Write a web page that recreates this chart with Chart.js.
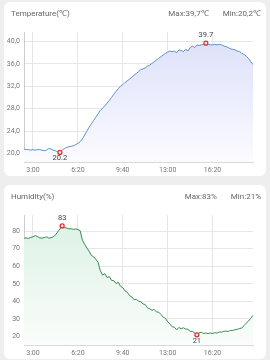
<!DOCTYPE html>
<html>
<head>
<meta charset="utf-8">
<script src="https://cdn.jsdelivr.net/npm/chart.js@4.4.0/dist/chart.umd.min.js"></script>
<style>
  body { margin: 0; background: #eeeeee; width: 270px; height: 360px; overflow: hidden; font-family: Roboto, sans-serif; }
  .card { position: absolute; left: 4px; width: 262px; height: 174px; background: #fff; border-radius: 6px; }
  .head { position: absolute; left: 7px; right: 5px; top: 7px; height: 10px; line-height: 10px; display: flex; justify-content: space-between; font-size: 8px; color: #666; z-index: 2; }
  .stats span + span { margin-left: 14px; }
  .card canvas { position: absolute; left: 0; top: 0; }
</style>
</head>
<body>
<div class="card" style="top:2px">
  <div class="head"><span>Temperature(℃)</span><span class="stats"><span id="tempMax"></span><span id="tempMin"></span></span></div>
  <canvas id="tempChart" width="262" height="174"></canvas>
</div>
<div class="card" style="top:185px">
  <div class="head"><span>Humidity(%)</span><span class="stats"><span id="humMax"></span><span id="humMin"></span></span></div>
  <canvas id="humChart" width="262" height="174"></canvas>
</div>
<script>
// sample times, every 10 minutes
const times = [
  '2:20','2:30','2:40','2:50',
  '3:00','3:10','3:20','3:30','3:40','3:50',
  '4:00','4:10','4:20','4:30','4:40','4:50',
  '5:00','5:10','5:20','5:30','5:40','5:50',
  '6:00','6:10','6:20','6:30','6:40','6:50',
  '7:00','7:10','7:20','7:30','7:40','7:50',
  '8:00','8:10','8:20','8:30','8:40','8:50',
  '9:00','9:10','9:20','9:30','9:40','9:50',
  '10:00','10:10','10:20','10:30','10:40','10:50',
  '11:00','11:10','11:20','11:30','11:40','11:50',
  '12:00','12:10','12:20','12:30','12:40','12:50',
  '13:00','13:10','13:20','13:30','13:40','13:50',
  '14:00','14:10','14:20','14:30','14:40','14:50',
  '15:00','15:10','15:20','15:30','15:40','15:50',
  '16:00','16:10','16:20','16:30','16:40','16:50',
  '17:00','17:10','17:20','17:30','17:40','17:50',
  '18:00','18:10','18:20','18:30','18:40','18:50',
  '19:00','19:10','19:20'
];
const timeTicks = ['3:00', '6:20', '9:40', '13:00', '16:20'];

const temperature = [
  20.8, 20.7, 20.7, 20.6, 20.7, 20.6, 20.7, 20.7, 20.6, 20.5, 20.6, 20.9, 20.8, 20.6, 20.5, 20.3, 20.2,
  20.6, 20.9, 21.1, 21.2, 21.3, 21.4, 21.6, 21.8, 22.1, 22.6, 23.3, 24.0, 24.7, 25.3, 25.9, 26.5, 27.1,
  27.7, 28.1, 28.5, 29.0, 29.5, 30.0, 30.6, 31.1, 31.6, 32.0, 32.3, 32.7, 33.0, 33.3, 33.6, 34.0, 34.3,
  34.6, 35.0, 35.1, 35.3, 35.6, 35.8, 36.1, 36.4, 36.7, 37.0, 37.3, 37.6, 37.9, 38.1, 38.3, 38.2, 38.3,
  38.0, 38.5, 38.4, 38.2, 38.6, 38.3, 38.9, 39.2, 38.9, 39.4, 39.3, 39.4, 39.5, 39.7, 39.5, 39.4, 39.4,
  39.5, 39.4, 39.5, 39.4, 39.2, 39.1, 38.9, 38.7, 38.6, 38.5, 38.3, 38.2, 37.9, 37.7, 37.4, 37.0, 36.4, 35.9
];
const humidity = [
  76.0, 76.1, 75.9, 76.4, 76.8, 77.5, 76.9, 76.2, 76.0, 76.3, 76.8, 76.1, 76.2, 76.8,
  77.8, 79.6, 81.2, 83.0, 82.0, 81.8, 81.3, 81.4, 81.0, 81.3, 80.9, 80.3,
  75.0, 72.5, 70.4, 68.6, 66.2, 65.4, 64.0, 62.2,
  57.5, 55.0, 55.8, 53.6, 54.2, 52.0, 51.8, 50.2, 50.9, 48.6, 47.8, 46.0, 45.2, 43.3, 42.6, 41.0, 41.2, 40.1,
  39.8, 38.6, 38.2, 36.4, 35.8, 35.0, 35.4, 34.0, 33.9, 32.6, 31.0, 30.4, 28.4, 27.2, 25.6, 25.3, 23.8,
  25.2, 24.4, 25.0, 24.3, 24.1, 23.0, 22.9, 22.1,
  21.0,
  22.2, 22.4, 21.8, 22.0, 21.7, 22.0, 21.8, 22.2, 22.0, 22.6, 22.5, 23.0, 23.1, 22.9, 23.5, 23.4, 23.9, 24.1, 24.6, 24.8, 26.3, 27.6, 28.8, 30.4, 32.0
];
const tempTicks = [20, 24, 28, 32, 36, 40];
const humTicks = [20, 30, 40, 50, 60, 70, 80];

// draws the value labels next to the red max/min markers
const extremeLabels = {
  id: 'extremeLabels',
  afterDatasetsDraw(chart, args, opts) {
    const meta = chart.getDatasetMeta(0);
    const values = chart.data.datasets[0].data;
    const ctx = chart.ctx;
    ctx.save();
    ctx.font = '7.5px Roboto';
    ctx.fillStyle = '#444';
    ctx.textAlign = 'center';
    ctx.textBaseline = 'middle';
    const hi = values.indexOf(Math.max(...values));
    const lo = values.indexOf(Math.min(...values));
    const p1 = meta.data[hi], p2 = meta.data[lo];
    ctx.fillText(opts.format(values[hi]), p1.x, p1.y - 8);
    ctx.fillText(opts.format(values[lo]), p2.x, p2.y + 6);
    ctx.restore();
  }
};

function makeChart(id, values, yTicks, yMin, yMax, lineColor, fillTop, fillBottom, fmt, tickFmt) {
  const hi = values.indexOf(Math.max(...values));
  const lo = values.indexOf(Math.min(...values));
  return new Chart(document.getElementById(id), {
    type: 'line',
    data: {
      labels: times,
      datasets: [{
        data: values,
        borderColor: lineColor,
        borderWidth: 1,
        tension: 0,
        fill: 'start',
        backgroundColor: function(context) {
          const area = context.chart.chartArea;
          if (!area) return null;
          const g = context.chart.ctx.createLinearGradient(0, area.top, 0, area.bottom);
          g.addColorStop(0, fillTop);
          g.addColorStop(1, fillBottom);
          return g;
        },
        pointRadius: ctx => (ctx.dataIndex === hi || ctx.dataIndex === lo) ? 2 : 0,
        pointBorderColor: '#e02a2a',
        pointBackgroundColor: '#fbe4e4',
        pointBorderWidth: 1.2
      }]
    },
    options: {
      responsive: false,
      animation: false,
      layout: { padding: { top: 30, right: 13, left: 0, bottom: 0 } },
      plugins: {
        legend: { display: false },
        tooltip: { enabled: false },
        extremeLabels: { format: fmt }
      },
      scales: {
        x: {
          type: 'category',
          afterBuildTicks: scale => {
            scale.ticks = scale.ticks.filter(t => timeTicks.includes(times[t.value]));
          },
          afterFit: scale => { scale.height = 13.5; },
          grid: { color: '#e6e6e6', drawTicks: false },
          border: { color: '#d4d4d4' },
          ticks: { autoSkip: false, maxRotation: 0, padding: 4, color: '#777', font: { size: 7, family: 'Roboto' } }
        },
        y: {
          min: yMin,
          max: yMax,
          afterBuildTicks: scale => { scale.ticks = yTicks.map(v => ({ value: v })); },
          afterFit: scale => { scale.width = 20; },
          grid: { color: '#e6e6e6', drawTicks: false },
          border: { color: '#cfcfcf' },
          ticks: { padding: 4, color: '#777', font: { size: 7, family: 'Roboto' }, callback: tickFmt }
        }
      }
    },
    plugins: [extremeLabels]
  });
}

const comma = v => v.toFixed(1).replace('.', ',');

document.getElementById('tempMax').textContent = 'Max:' + comma(Math.max(...temperature)) + '℃';
document.getElementById('tempMin').textContent = 'Min:' + comma(Math.min(...temperature)) + '℃';
document.getElementById('humMax').textContent = 'Max:' + Math.round(Math.max(...humidity)) + '%';
document.getElementById('humMin').textContent = 'Min:' + Math.round(Math.min(...humidity)) + '%';

makeChart('tempChart', temperature, tempTicks, 18.4, 41.7, '#5e90c9', '#dcdff9', '#fbfbff',
  v => v.toFixed(1), v => comma(v));
makeChart('humChart', humidity, humTicks, 14.9, 89.2, '#3a8a50', '#dbf1e4', '#fafdfb',
  v => String(Math.round(v)), v => String(v));
</script>
</body>
</html>
